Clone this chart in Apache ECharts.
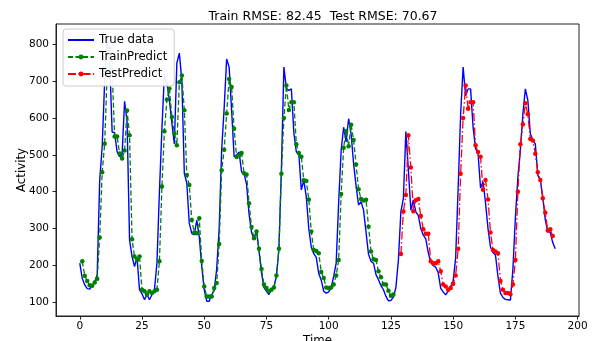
<!DOCTYPE html>
<html>
<head>
<meta charset="utf-8">
<script src="https://cdn.jsdelivr.net/npm/echarts@6/dist/echarts.min.js"></script>
<style>
html,body{margin:0;padding:0;background:#fff;}
#chart{width:593px;height:341px;}
</style>
</head>
<body>
<div id="chart"></div>
<script>
// ---- data ----
const titleText = "Train RMSE: 82.45  Test RMSE: 70.67";
const xTicks = [0, 25, 50, 75, 100, 125, 150, 175, 200];
const yTicks = [100, 200, 300, 400, 500, 600, 700, 800];

const trueData = [
  206,165,147,137,136,145,155,175,430,522,
  700,819,760,562,560,508,495,500,645,590,
  269,224,197,222,134,123,107,121,107,121,
  134,206,400,570,720,694,649,586,530,749,
  776,702,450,423,314,287,283,323,278,197,
  134,103,103,121,132,190,300,514,626,760,
  738,621,495,500,508,454,450,420,340,290,
  271,296,240,180,140,130,121,134,143,170,
  245,460,738,680,675,679,560,508,502,405,
  431,386,300,250,232,222,178,160,130,125,
  128,140,170,206,370,512,575,535,598,557,
  476,415,364,373,350,290,230,211,206,175,
  161,145,134,116,104,105,114,140,215,346,
  382,563,460,350,378,345,335,300,282,272,
  235,208,200,195,180,138,128,120,130,143,
  158,220,410,610,738,660,679,679,575,517,
  504,410,427,370,300,250,235,228,170,125,
  113,108,107,106,190,330,440,512,610,679,
  648,557,540,530,445,432,386,324,292,290,
  262,245
];

const trainStart = 1;
const trainPredict = [
  211,172,158,146,145,154,164,276,453,530,
  720,790,730,550,550,504,490,512,620,553,
  271,224,215,224,134,130,121,130,125,130,
  134,211,414,564,650,680,603,558,526,697,
  715,621,445,418,323,289,287,328,212,143,
  116,116,116,139,152,258,458,514,612,706,
  684,571,494,499,505,450,447,369,304,274,
  292,245,190,148,139,130,134,140,173,245,
  449,600,688,622,643,643,529,505,495,431,
  429,379,292,242,239,233,182,166,140,139,
  140,148,173,215,394,519,565,523,582,540,
  474,407,380,376,378,305,238,217,215,184,
  168,149,148,131,118,121
];

const testStart = 129;
const testPredict = [
  231,346,391,553,466,347,377,380,334,298,
  286,286,211,206,206,211,184,148,143,134,
  139,150,173,245,449,600,688,625,643,643,
  526,508,495,405,432,379,289,242,238,233,
  158,134,125,125,122,148,215,400,529,583,
  640,610,543,539,503,453,432,382,343,295,
  298,280
];

// ---- build chart ----
const FONT = "DejaVu Sans";
const truePts = trueData.map((v, i) => [i, v]);
const trainPts = trainPredict.map((v, i) => [trainStart + i, v]);
const testPts = testPredict.map((v, i) => [testStart + i, v]);

const chart = echarts.init(document.getElementById('chart'), null, {renderer: 'canvas'});
chart.setOption({
  animation: false,
  backgroundColor: '#ffffff',
  textStyle: {fontFamily: FONT},
  grid: {
    left: 56, top: 24, width: 523, height: 292,
    outerBoundsMode: 'none', containLabel: false,
    show: true, borderColor: '#222', borderWidth: 1, backgroundColor: 'transparent'
  },
  title: {
    text: titleText,
    left: 318, top: 5, textAlign: 'center',
    textStyle: {fontFamily: FONT, fontSize: 12.5, fontWeight: 'normal', color: '#000'}
  },
  legend: {
    orient: 'vertical',
    left: 63, top: 29,
    padding: [5, 7, 6, 4],
    itemWidth: 26, itemHeight: 6, itemGap: 5,
    backgroundColor: 'rgba(255,255,255,0.92)',
    borderColor: '#cccccc', borderWidth: 1, borderRadius: 3,
    textStyle: {fontFamily: FONT, fontSize: 11.7, color: '#000'},
    data: [
      {name: 'True data', itemStyle: {opacity: 0}},
      'TrainPredict',
      'TestPredict'
    ]
  },
  xAxis: {
    type: 'value',
    min: -9.55, max: 200.55,
    name: 'Time', nameLocation: 'middle', nameGap: 19, nameMoveOverlap: false,
    nameTextStyle: {fontFamily: FONT, fontSize: 11.8, color: '#000'},
    axisLine: {show: true, onZero: false, lineStyle: {color: '#222', width: 1}},
    axisTick: {show: true, inside: false, length: 3.5, customValues: xTicks, lineStyle: {color: '#222'}},
    axisLabel: {customValues: xTicks, fontFamily: FONT, fontSize: 10.5, color: '#000', margin: 5},
    splitLine: {show: false}
  },
  yAxis: {
    type: 'value',
    min: 62.8, max: 855,
    name: 'Activity', nameLocation: 'middle', nameGap: 28, nameMoveOverlap: false,
    nameTextStyle: {fontFamily: FONT, fontSize: 11.8, color: '#000'},
    axisLine: {show: true, onZero: false, lineStyle: {color: '#222', width: 1}},
    axisTick: {show: true, inside: false, length: 3.5, customValues: yTicks, lineStyle: {color: '#222'}},
    axisLabel: {customValues: yTicks, fontFamily: FONT, fontSize: 10.5, color: '#000', margin: 7},
    splitLine: {show: false}
  },
  series: [
    {
      name: 'True data', type: 'line', data: truePts,
      symbol: 'none', showSymbol: false,
      lineStyle: {color: '#0000ff', width: 1.4},
      itemStyle: {color: '#0000ff'},
      z: 2
    },
    {
      name: 'TrainPredict', type: 'line', data: trainPts,
      symbol: 'circle', symbolSize: 4.5, showSymbol: true, showAllSymbol: true,
      lineStyle: {color: '#008000', width: 1.3, type: [5, 2.5]},
      itemStyle: {color: '#008000'},
      z: 3
    },
    {
      name: 'TestPredict', type: 'line', data: testPts,
      symbol: 'circle', symbolSize: 4.5, showSymbol: true, showAllSymbol: true,
      lineStyle: {color: '#ff0000', width: 1.3, type: [8, 2.5, 1.5, 2.5]},
      itemStyle: {color: '#ff0000'},
      z: 4
    }
  ]
});
</script>
</body>
</html>
